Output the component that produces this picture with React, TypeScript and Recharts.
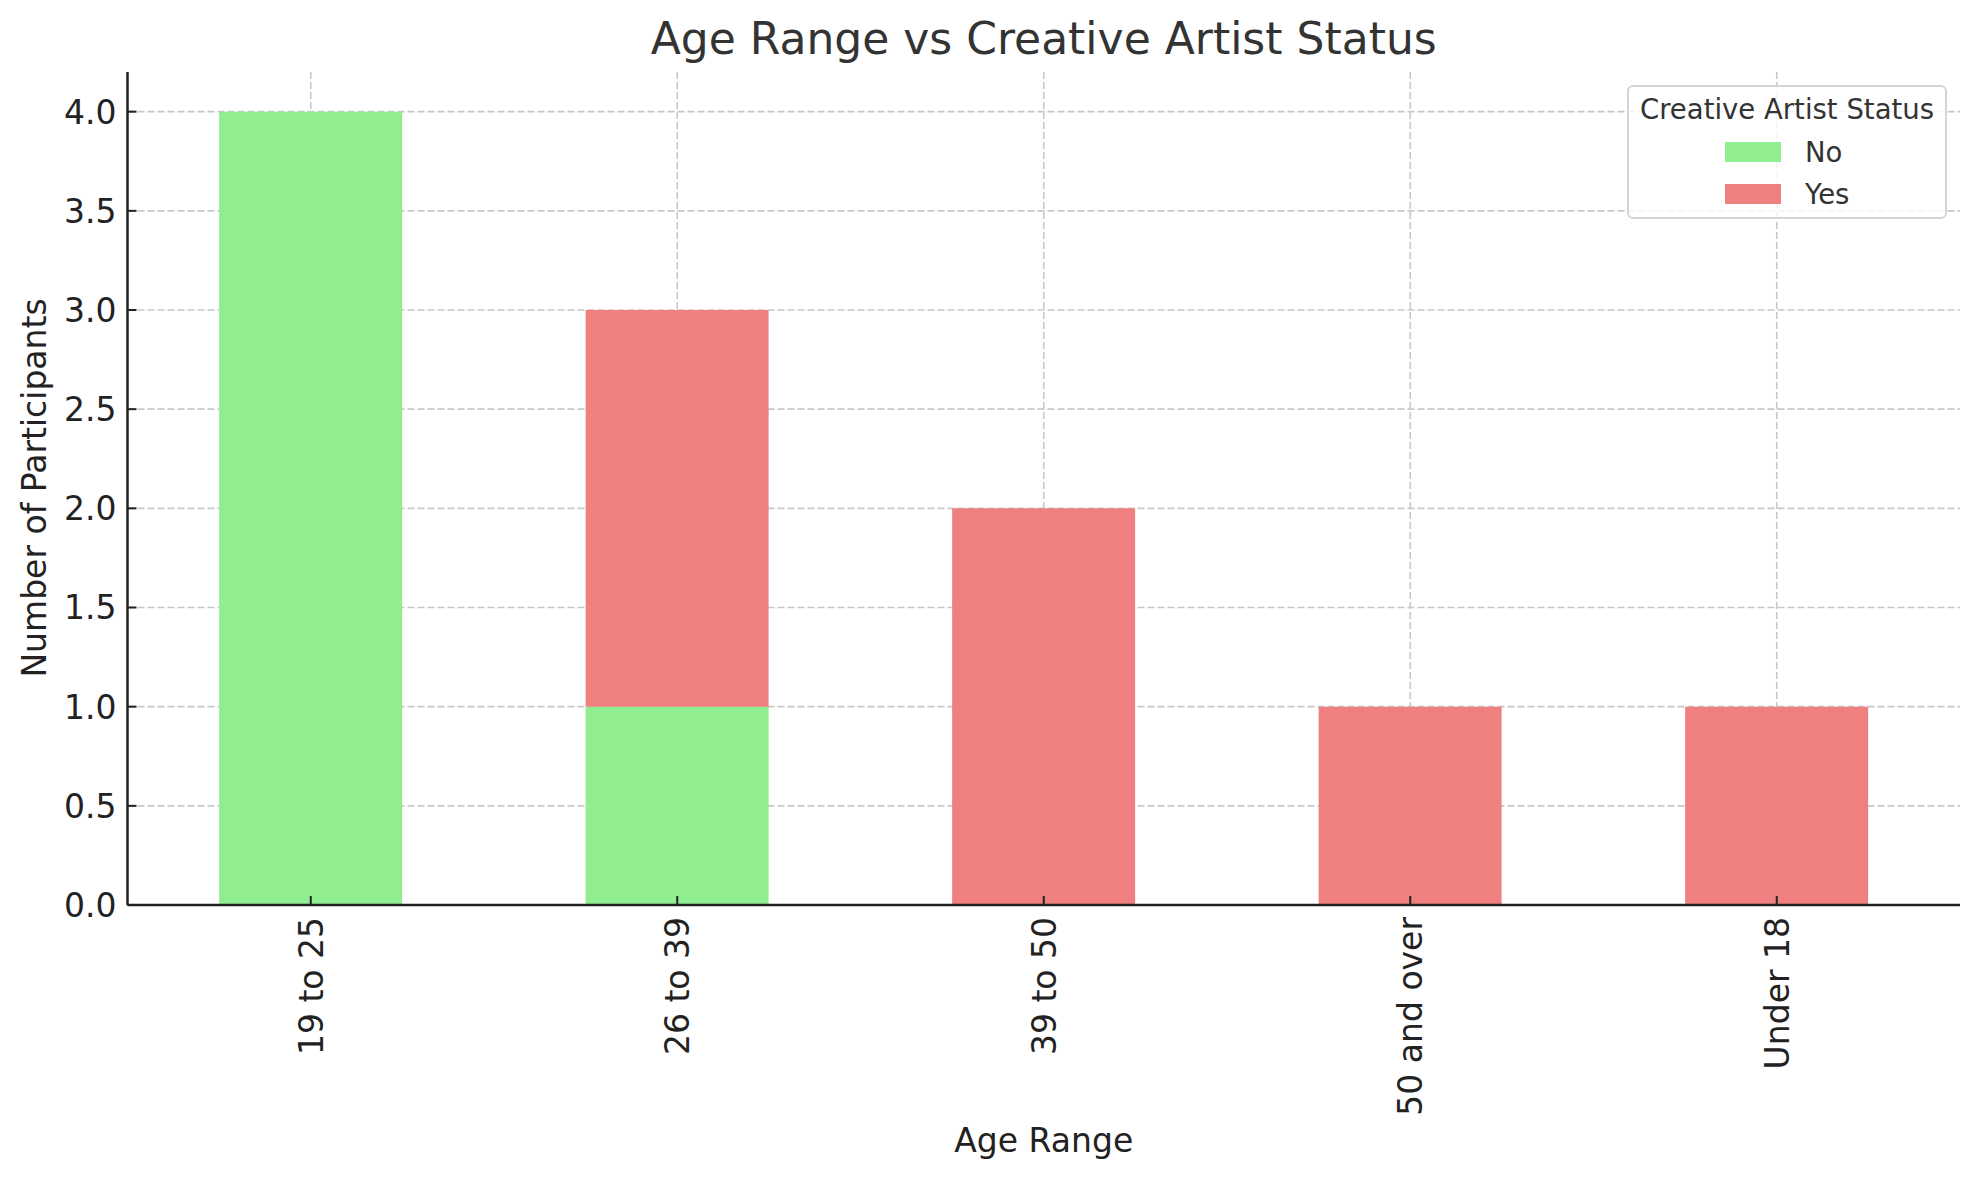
import React from 'react';
import { BarChart, Bar, XAxis, YAxis, CartesianGrid, Legend } from 'recharts';

const ageRanges = ['19 to 25', '26 to 39', '39 to 50', '50 and over', 'Under 18'];
const noCounts = [4, 1, 0, 0, 0];
const yesCounts = [0, 2, 2, 1, 1];
const yTicks = [0, 0.5, 1, 1.5, 2, 2.5, 3, 3.5, 4];

const FONT = '"DejaVu Sans", sans-serif';
const INK = '#222';

const YTick = (props: any) => {
    const { x, y, payload } = props;
    return (
        <g>
            <line x1={x} x2={x + 9} y1={y} y2={y} stroke={INK} strokeWidth={2} />
            <text x={x - 11} y={y} dy="0.36em" textAnchor="end" fontSize={33} fill={INK} fontFamily={FONT}>
                {Number(payload.value).toFixed(1)}
            </text>
        </g>
    );
};

const XTick = (props: any) => {
    const { x, y, payload } = props;
    const ty = y + 12;
    return (
        <g>
            <line x1={x} x2={x} y1={y} y2={y - 9} stroke={INK} strokeWidth={2} />
            <text
                x={x}
                y={ty}
                dy="0.36em"
                textAnchor="end"
                transform={`rotate(-90, ${x}, ${ty})`}
                fontSize={33}
                fill={INK}
                fontFamily={FONT}
            >
                {payload.value}
            </text>
        </g>
    );
};

const LegendBox = (props: any) => {
    const { payload } = props;
    const rows = payload || [];
    return (
        <div
            style={{
                position: 'relative',
                width: 320,
                height: 134,
                boxSizing: 'border-box',
                border: '2px solid #d5d5d5',
                borderRadius: 6,
                background: 'rgba(255,255,255,0.8)',
                fontFamily: FONT,
                color: '#333',
            }}
        >
            <div style={{ position: 'absolute', left: 0, right: 0, top: 6, textAlign: 'center', fontSize: 27.5, lineHeight: '32px' }}>
                Creative Artist Status
            </div>
            {rows.map((entry: any, i: number) => (
                <div key={entry.value} style={{ position: 'absolute', left: 0, top: 49 + i * 41.5, height: 32, width: '100%' }}>
                    <div style={{ position: 'absolute', left: 96, top: 6, width: 56, height: 20, background: entry.color }} />
                    <div style={{ position: 'absolute', left: 176, top: 0, fontSize: 27.5, lineHeight: '32px' }}>{entry.value}</div>
                </div>
            ))}
        </div>
    );
};

const data = ageRanges.map((range, i) => ({ range, No: noCounts[i], Yes: yesCounts[i] }));

const App: React.FC = () => {
    return (
        <div style={{ position: 'absolute', left: 0, top: 0, width: 1979, height: 1180, background: '#fff' }}>
            <BarChart
                width={1979}
                height={1180}
                data={data}
                margin={{ top: 72, right: 19, left: 0, bottom: 0 }}
                barCategoryGap="25%"
            >
                <XAxis
                    dataKey="range"
                    interval={0}
                    height={275}
                    tickSize={0}
                    tickMargin={0}
                    tickLine={false}
                    axisLine={{ stroke: INK, strokeWidth: 2.5 }}
                    tick={<XTick />}
                />
                <YAxis
                    type="number"
                    domain={[0, 4.2]}
                    ticks={yTicks}
                    width={127.5}
                    tickSize={0}
                    tickMargin={0}
                    tickLine={false}
                    axisLine={{ stroke: INK, strokeWidth: 2.5 }}
                    tick={<YTick />}
                />
                <Bar dataKey="No" stackId="a" fill="#90EE90" isAnimationActive={false} />
                <Bar dataKey="Yes" stackId="a" fill="#F08080" isAnimationActive={false} />
                {/* grid sits above the bars, as in the source plot */}
                <CartesianGrid stroke="#c8c8c8" strokeWidth={1.6} strokeDasharray="7 3" syncWithTicks />
                <Legend
                    layout="horizontal"
                    verticalAlign="middle"
                    align="center"
                    content={<LegendBox />}
                    wrapperStyle={{ position: 'absolute', left: 1627, top: 85, width: 320, height: 134 }}
                />
            </BarChart>
            <svg
                width={1979}
                height={1180}
                style={{ position: 'absolute', left: 0, top: 0, pointerEvents: 'none' }}
                fontFamily={FONT}
            >
                <text x={1043.75} y={54} textAnchor="middle" fontSize={44} fill="#333">
                    Age Range vs Creative Artist Status
                </text>
                <text x={1043.75} y={1152} textAnchor="middle" fontSize={33} fill={INK}>
                    Age Range
                </text>
                <text transform="translate(46, 488) rotate(-90)" textAnchor="middle" fontSize={33} fill={INK}>
                    Number of Participants
                </text>
            </svg>
        </div>
    );
};

export default App;
